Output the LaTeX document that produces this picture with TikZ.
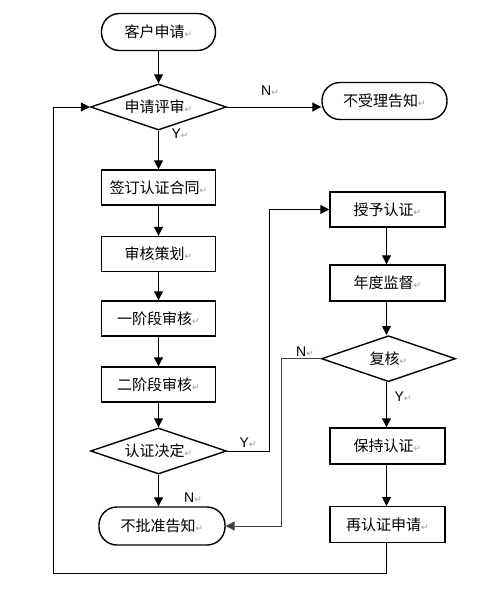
\documentclass[tikz,border=0pt]{standalone}
\usepackage{fontspec}
\setmainfont{Liberation Sans}
\newfontfamily\cjk{Noto Sans CJK SC}
\newfontfamily\dejavu{DejaVu Sans}
\usetikzlibrary{shapes.geometric,arrows.meta}
\newcommand{\pmark}{{\dejavu\color{black!40}\fontsize{9}{9}\selectfont ↵}}
\begin{document}
\begin{tikzpicture}[x=1pt,y=-1pt,
  box/.style={draw,line width=1.4pt,minimum width=114pt,minimum height=35pt,inner sep=0pt,font=\cjk\fontsize{15}{15}\selectfont},
  term/.style={box,rounded corners=18pt,minimum height=37pt},
  dia/.style={draw,diamond,aspect=3,line width=1.4pt,minimum width=136pt,minimum height=46pt,inner sep=0pt,font=\cjk\fontsize{15}{15}\selectfont},
  arr/.style={line width=1pt,-{Triangle[length=9pt,width=9pt]}},
  lbl/.style={inner sep=0pt,font=\fontsize{14}{14}\selectfont}
]
\useasboundingbox (0,0) rectangle (488,597);
% left column
\node[term] (a) at (158.5,32) {客户申请\pmark};
\node[dia]  (b) at (158.5,107) {申请评审\pmark};
\node[term,minimum width=125pt] (c) at (384.5,101) {不受理告知\pmark};
\node[box]  (d) at (158.5,187.5) {签订认证合同\pmark};
\node[box]  (e) at (158.5,254) {审核策划\pmark};
\node[box]  (f) at (158.5,318.5) {一阶段审核\pmark};
\node[box]  (g) at (158.5,384.5) {二阶段审核\pmark};
\node[dia]  (h) at (158.5,451) {认证决定\pmark};
\node[term,minimum width=126pt,minimum height=38pt] (i) at (162,526) {不批准告知\pmark};
% right column
\node[box,minimum width=115pt] (j) at (387.5,209.5) {授予认证\pmark};
\node[box,minimum width=115pt,minimum height=36pt] (k) at (387.5,283) {年度监督\pmark};
\node[dia,minimum width=134pt] (l) at (388.5,358.7) {复核\pmark};
\node[box,minimum width=115pt,minimum height=36pt] (m) at (387.5,446) {保持认证\pmark};
\node[box,minimum width=115pt,minimum height=36pt] (n) at (387.5,524.7) {再认证申请\pmark};
\coordinate (loopc) at (53,573);
% labels
\node[lbl] (nb) at (270,91) {N\pmark};
\node[lbl] (yb) at (180,134) {Y\pmark};
\node[lbl] (yh) at (248,443) {Y\pmark};
\node[lbl] (nh) at (193,498) {N\pmark};
\node[lbl] (nl) at (305,352) {N\pmark};
\node[lbl] (yl) at (403,397) {Y\pmark};
% connectors
\draw[arr] (a) -- (b);
\draw[arr] (b.east) -- (b.east -| c.west);
\draw[arr] (b) -- (d);
\draw[arr] (d) -- (e);
\draw[arr] (e) -- (f);
\draw[arr] (f) -- (g);
\draw[arr] (g) -- (h);
\draw[arr] (h) -- (h.south |- i.north);
\draw[arr] (h.east) -- ++(42,0) |- (j.west);
\draw[arr] (j.south -| 386.5,0) -- (386.5,0 |- k.north);
\draw[arr] (k.south -| 386.5,0) -- (386.5,0 |- l.north);
\draw[arr] (l.south -| 386.5,0) -- (386.5,0 |- m.north);
\draw[arr] (m.south -| 386.5,0) -- (386.5,0 |- n.north);
\draw[arr,black!75] (l.west) -- ++(-39.5,0) |- (i.east);
\draw[arr] (n.south -| 386.5,0) |- (loopc) |- (b.west);
\end{tikzpicture}
\end{document}
